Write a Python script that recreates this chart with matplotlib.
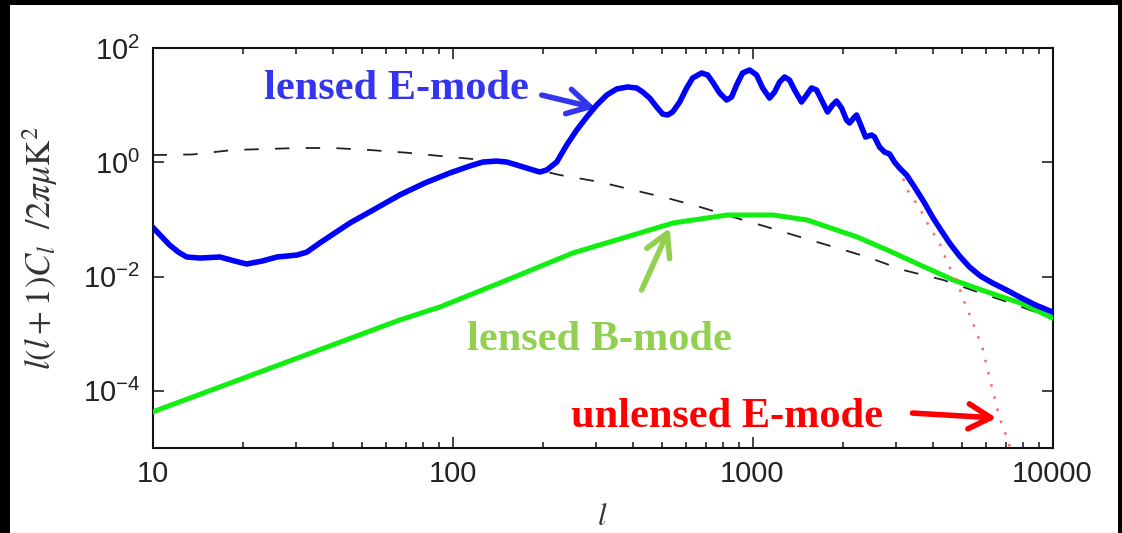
import numpy as np
import matplotlib
matplotlib.use("Agg")
import matplotlib.pyplot as plt
from matplotlib.patches import Rectangle
from matplotlib.ticker import LogLocator, FixedLocator, FuncFormatter, NullFormatter, NullLocator

plt.rcParams['font.family'] = ['Liberation Sans', 'DejaVu Sans']
plt.rcParams['mathtext.fontset'] = 'stix'
plt.rcParams['axes.unicode_minus'] = False

# lensed E-mode
ell_E = [10, 10.6, 11.4, 12.2, 13.0, 14.4, 16.8, 18.8, 20.6, 23.2, 26.0, 30.3, 32.7, 36.1,
         45.5, 55.1, 66.7, 80.9, 97.9, 114.2, 126.2, 140.5, 151.7, 163.8, 180.9, 195.4,
         206.1, 222.6, 240.3, 259.5, 280.2, 302.5, 326.6, 352.6, 383.7, 411.1, 430.5, 454.2,
         479.2, 501.8, 521.5, 541.9, 571.8, 603.3, 631.7, 676.9, 708.7, 736.4, 777.0, 819.9,
         851.9, 885.1, 926.8, 978.0, 1032, 1081, 1140, 1185, 1231, 1279, 1329, 1381, 1457,
         1514, 1573, 1635, 1699, 1779, 1849, 1906, 1981, 2058, 2106, 2189, 2223, 2309, 2382,
         2494, 2552, 2651, 2755, 2862, 2974, 3091, 3262, 3468, 3745, 3982, 4267, 4537, 4898,
         5290, 5755, 6310, 7027, 7762, 8777, 10000]
cl_E = [0.0737, 0.0534, 0.0357, 0.0268, 0.0220, 0.0211, 0.0220, 0.0187, 0.0166, 0.0187,
        0.0220, 0.0238, 0.0268, 0.0387, 0.0866, 0.152, 0.268, 0.434, 0.649, 0.861, 1.01,
        1.05, 1.01, 0.896, 0.763, 0.676, 0.733, 1.01, 2.01, 3.67, 6.20, 10.06, 15.0, 19.2,
        20.8, 19.95, 17.0, 13.3, 9.28, 7.0, 6.72, 7.59, 11.35, 19.95, 29.9, 36.5, 33.7, 25.4,
        16.3, 12.3, 13.9, 22.5, 36.5, 41.2, 33.7, 19.95, 13.3, 17.0, 25.4, 31.1, 27.5, 18.4,
        11.35, 15.0, 19.95, 18.4, 12.3, 7.59, 10.06, 11.8, 8.91, 5.50, 4.87, 6.20, 6.72, 4.15,
        2.77, 3.00, 2.77, 1.85, 1.51, 1.40, 1.01, 0.794, 0.599, 0.369, 0.194, 0.110, 0.0627,
        0.0387, 0.0229, 0.0147, 0.0102, 0.00772, 0.00582, 0.00439, 0.00318, 0.0024]

# unlensed E-mode: follows the lensed curve up to l~3100, then the damping tail
ell_U_tail = [3285, 3602, 3890, 4201, 4467, 4824, 5129, 5412, 5843, 6166, 6653, 7025, 7464]
cl_U_tail = [0.327, 0.158, 0.0736, 0.0387, 0.0173, 0.00772, 0.00318, 0.0016, 5.6e-4,
             1.68e-4, 3.48e-5, 1.56e-5, 6.2e-6]

# lensed B-mode
ell_B = [10, 66.7, 90.7, 152, 252, 370, 543, 823, 1172, 1522, 2235, 2814, 3625, 4673,
         6067, 7821, 10000]
cl_B = [4.27e-5, 1.74e-3, 2.93e-3, 8.71e-3, 0.0259, 0.0473, 0.0866, 0.1195, 0.1195, 0.0977,
        0.0492, 0.0292, 0.0159, 8.71e-3, 5.37e-3, 3.45e-3, 1.88e-3]

# dashed curve
ell_D = [10, 13.6, 18.5, 30.9, 39.9, 53, 70.4, 90.7, 117, 152, 228, 310, 400, 519, 669,
         862, 1119, 1442, 1917, 2413, 3182, 4327, 5619, 7240, 10000]
cl_D = [1.34, 1.37, 1.64, 1.78, 1.78, 1.64, 1.47, 1.29, 1.14, 0.971, 0.599, 0.452, 0.327,
        0.237, 0.165, 0.110, 0.0737, 0.0492, 0.0316, 0.022, 0.0130, 8.71e-3, 5.37e-3,
        3.45e-3, 1.88e-3]

ell_U = [l for l in ell_E if l < 3100] + ell_U_tail
cl_U = [c for l, c in zip(ell_E, cl_E) if l < 3100] + cl_U_tail

fig = plt.figure(figsize=(11.22, 5.33), dpi=100, facecolor='black')
fig.patches.append(Rectangle((10 / 1122, 0), 1108 / 1122, 528 / 533, transform=fig.transFigure,
                             facecolor='white', edgecolor='none', zorder=-5))
ax = fig.add_axes([152.5 / 1122, 85 / 533, 900 / 1122, 400 / 533])
ax.set_zorder(2)

ax.plot(ell_D, cl_D, color='#222222', lw=1.3, dashes=(8, 9), zorder=2)
ax.plot(ell_B, cl_B, color='#11ee11', lw=3.6, zorder=3, solid_joinstyle='round')
ax.plot(ell_U, cl_U, color='#ff6666', lw=1.8, linestyle=(0, (1, 4)), zorder=4)
ax.plot(ell_E, cl_E, color='#0000ff', lw=4.0, zorder=5, solid_joinstyle='round')

ax.set_xscale('log')
ax.set_yscale('log')
ax.set_xlim(10, 10000)
ax.set_ylim(1e-5, 1e2)

ax.xaxis.set_major_locator(FixedLocator([10, 100, 1000, 10000]))
ax.xaxis.set_major_formatter(FuncFormatter(lambda v, p: '%d' % round(v)))
ax.xaxis.set_minor_locator(LogLocator(base=10, subs=np.arange(2, 10)))
ax.xaxis.set_minor_formatter(NullFormatter())
ax.yaxis.set_major_locator(FixedLocator([1e-4, 1e-2, 1e0, 1e2]))
ax.yaxis.set_major_formatter(FuncFormatter(lambda v, p: r'$\mathdefault{10^{%d}}$' % round(np.log10(v))))
ax.yaxis.set_minor_locator(NullLocator())

ax.tick_params(which='both', direction='in', top=True, right=True, colors='#111111',
               labelcolor='#222222', labelsize=21, width=1.1)
ax.tick_params(which='major', length=8, pad=9)
ax.tick_params(which='minor', length=4)
for s in ax.spines.values():
    s.set_linewidth(1.5)
    s.set_color('#111111')

ax.set_ylabel(r'$l(l+1)C_l\ \ /2\pi\mu{\rm K}^2$', fontsize=25, color='#333333')
ax.yaxis.set_label_coords(-0.103, 0.5)
ax.set_xlabel(r'$l$', fontsize=22, color='#333333')
ax.xaxis.set_label_coords(0.5, -0.135)

tfont = dict(family=['Liberation Serif', 'DejaVu Serif'], weight='bold', fontsize=30.5)
arrow = dict(arrowstyle='->, head_length=0.8, head_width=0.45', lw=4,
             shrinkA=0, shrinkB=0, mutation_scale=20)

ax.text(65.2, 12.8, 'lensed E-mode', color='#3535f0', ha='center', va='baseline', **tfont)
ax.annotate('', xy=(300, 8.91), xytext=(198.4, 15.0), arrowprops=dict(arrow, color='#3535f0'))
ax.text(309.7, 5.19e-4, 'lensed B-mode', color='#92d050', ha='center', va='baseline', **tfont)
ax.annotate('', xy=(529.6, 0.0708), xytext=(427, 5.82e-3), arrowprops=dict(arrow, color='#92d050'))
ax.text(820, 2.33e-5, 'unlensed E-mode', color='#ff0000', ha='center', va='baseline', **tfont)
ax.annotate('', xy=(6503, 3.35e-5), xytext=(3414, 4.09e-5), arrowprops=dict(arrow, color='#ff0000'))

fig.savefig('out.png', dpi=100, facecolor=fig.get_facecolor())
